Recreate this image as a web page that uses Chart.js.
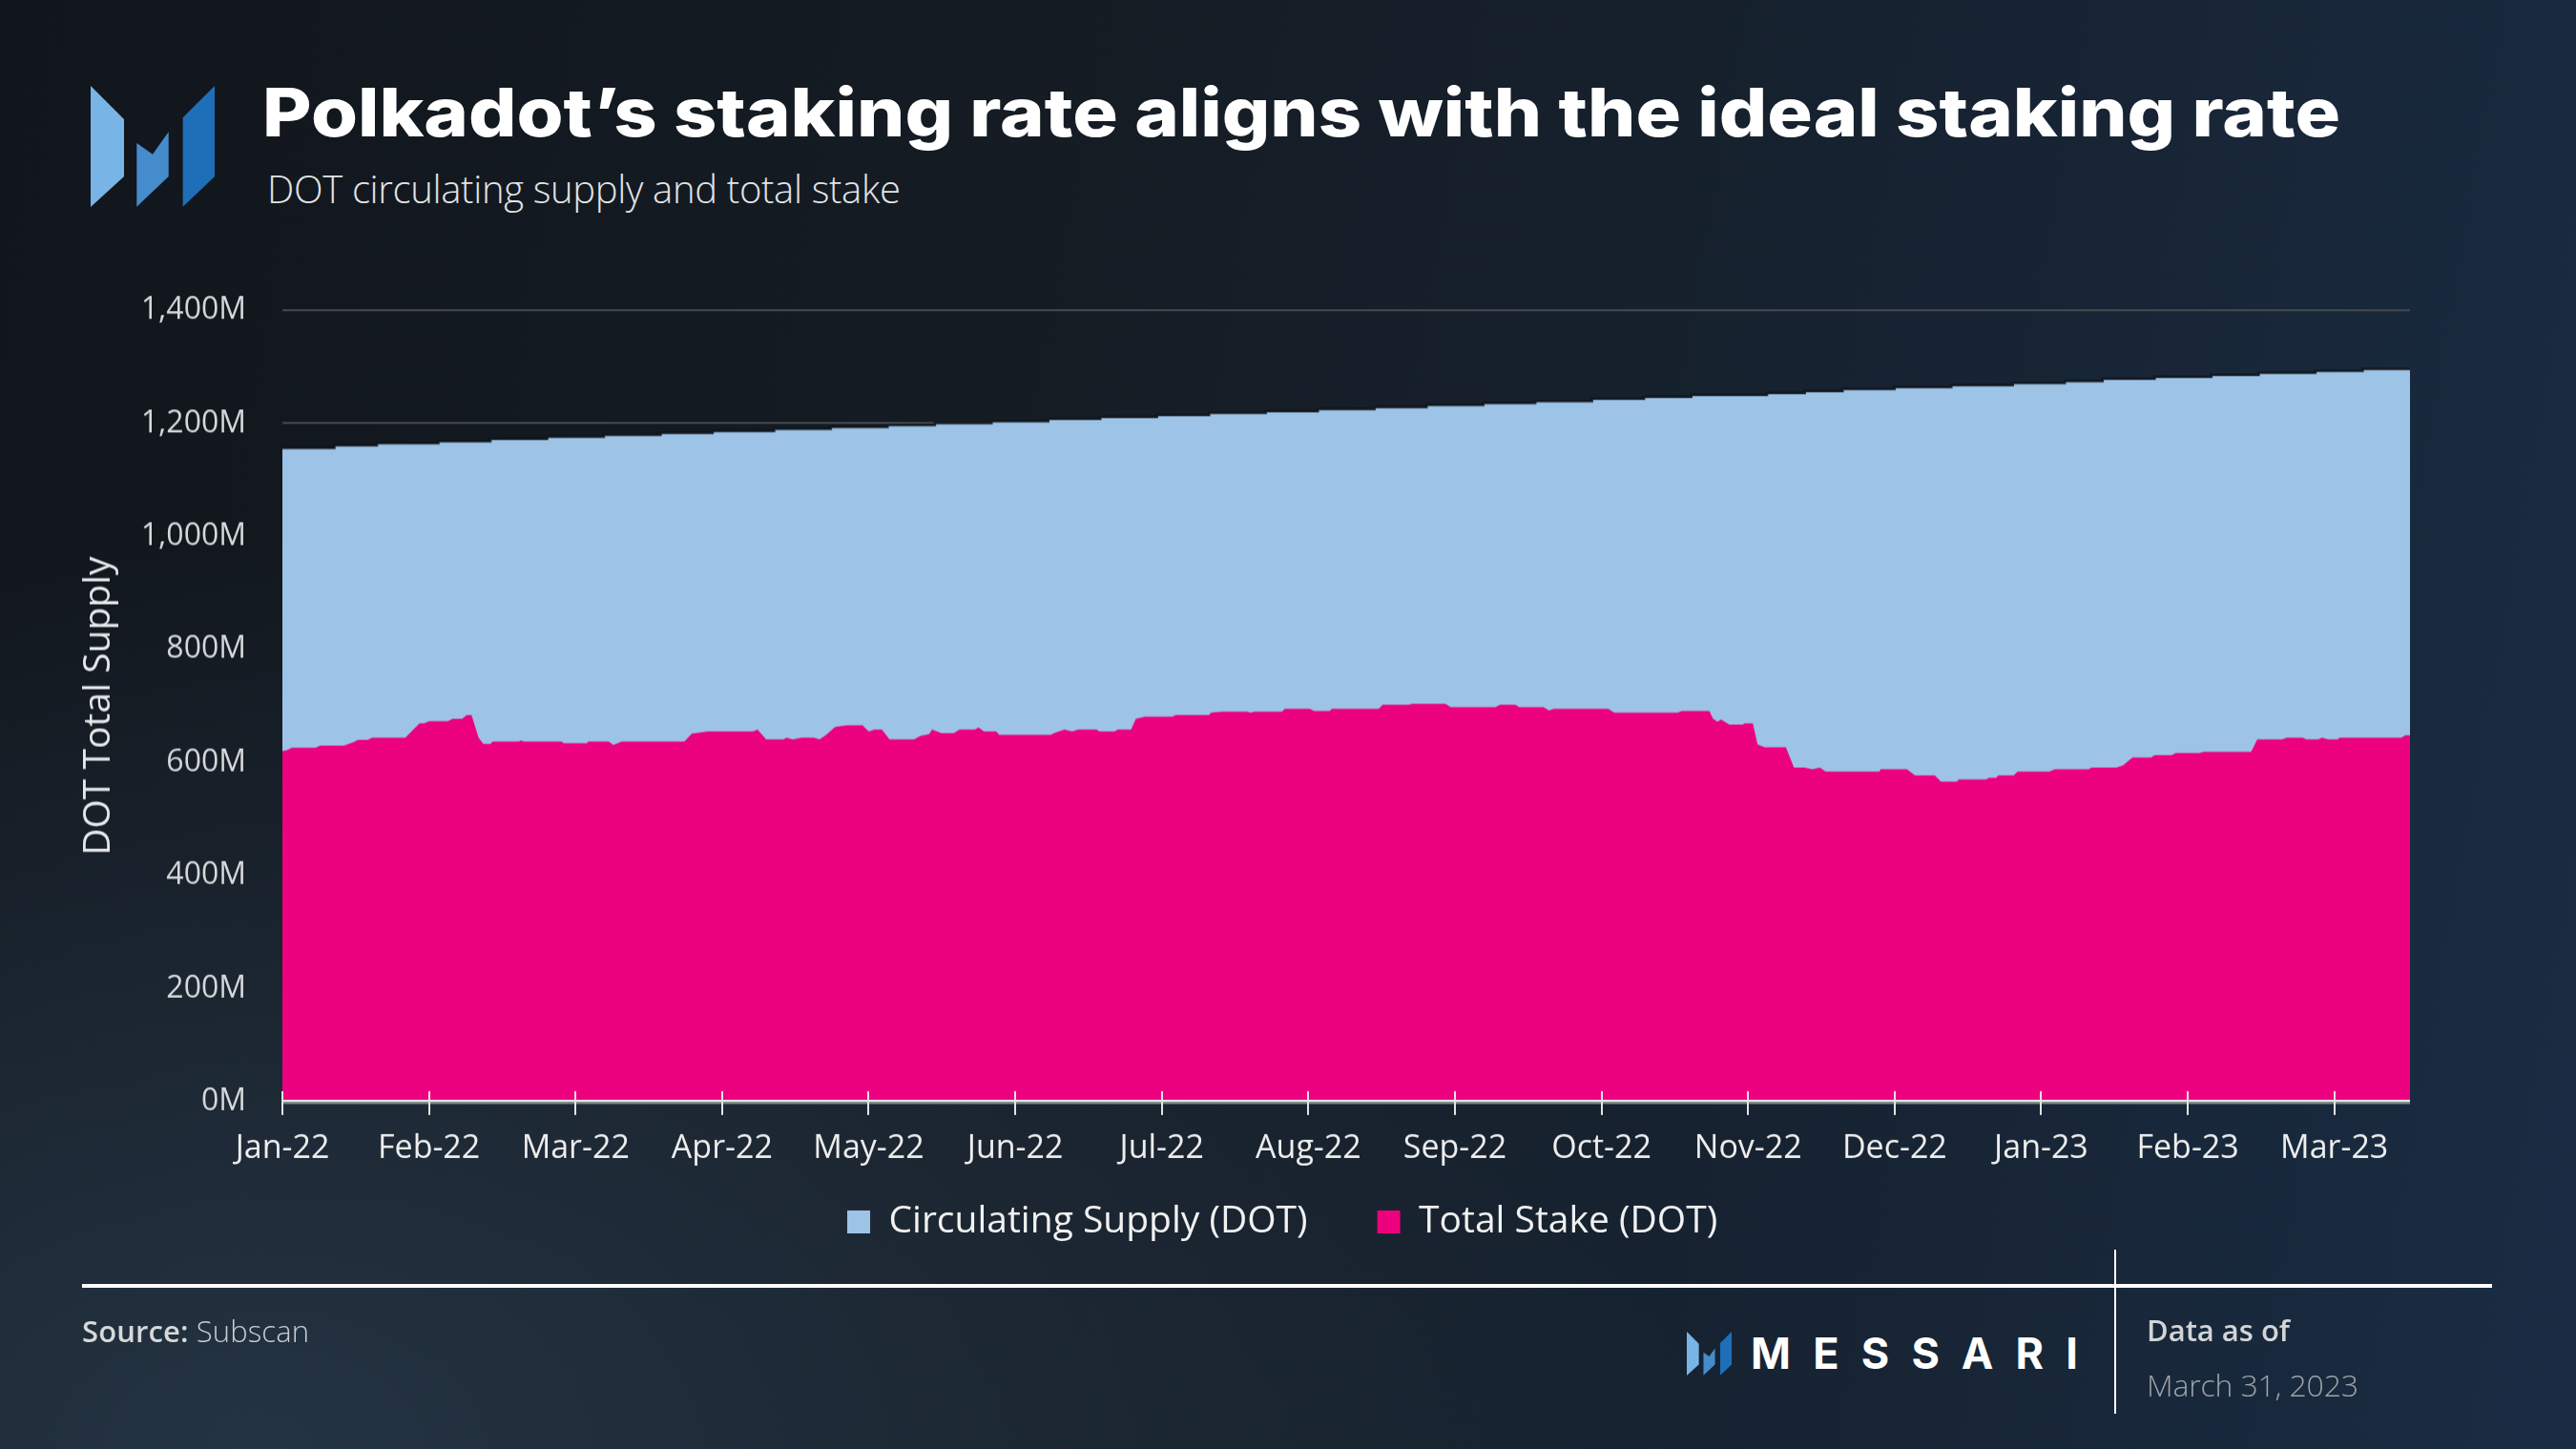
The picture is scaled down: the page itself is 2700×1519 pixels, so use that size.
<!DOCTYPE html>
<html>
<head>
<meta charset="utf-8">
<script src="https://cdn.jsdelivr.net/npm/chart.js@4.4.1/dist/chart.umd.min.js"></script>
<style>
html,body{margin:0;padding:0;}
body{width:2700px;height:1519px;overflow:hidden;position:relative;
  background:
    radial-gradient(ellipse 1500px 950px at 10% 100%, rgba(37,53,69,0.95) 0%, rgba(37,53,69,0) 100%),
    linear-gradient(100deg,#11161c 0%,#151c24 40%,#172434 75%,#1a2d44 100%);
  font-family:'Open Sans',sans-serif;}
.abs{position:absolute;white-space:nowrap;line-height:1;}
</style>
</head>
<body>
<svg class="abs" style="left:95px;top:90px" width="130" height="127" viewBox="95 90 130 127">
  <polygon points="95,90 130,125 130,185 95,217" fill="#78b4e6"/>
  <polygon points="143.3,150 160,161.7 176.7,138.3 176.7,185 143.3,216.7" fill="#468bcc"/>
  <polygon points="225,90 225,185 191.7,216.7 191.7,123.3" fill="#1f6fb8"/>
</svg>
<div id="title" class="abs" style="left:275px;top:82.5px;font-family:Inter,'Open Sans',sans-serif;font-weight:800;font-size:70px;color:#ffffff;transform-origin:0 0">Polkadot’s staking rate aligns with the ideal staking rate</div>
<div id="subtitle" class="abs" style="left:280px;top:177.5px;font-family:'Open Sans';font-weight:300;font-size:40px;color:#e2e4e6">DOT circulating supply and total stake</div>

<div id="wrap" style="position:absolute;left:0;top:0;width:2700px;height:1420px"><canvas id="c"></canvas></div>

<div class="abs" style="left:86px;top:1346px;width:2526px;height:4px;background:#ffffff"></div>
<div class="abs" style="left:2216px;top:1310px;width:2px;height:172px;background:#ffffff"></div>
<div id="source" class="abs" style="left:86px;top:1379.5px;font-size:31px;color:#c9cccf"><span style="font-weight:600;color:#d6d8da">Source:</span><span style="font-weight:300"> Subscan</span></div>
<svg class="abs" style="left:1768px;top:1396px" width="47" height="46" viewBox="95 90 130 127">
  <polygon points="95,90 130,125 130,185 95,217" fill="#78b4e6"/>
  <polygon points="143.3,150 160,161.7 176.7,138.3 176.7,185 143.3,216.7" fill="#468bcc"/>
  <polygon points="225,90 225,185 191.7,216.7 191.7,123.3" fill="#1f6fb8"/>
</svg>
<div id="messari" class="abs" style="left:1835px;top:1396px;font-family:Inter,sans-serif;font-weight:700;font-size:45px;color:#ffffff">MESSARI</div>
<div id="dataasof" class="abs" style="left:2250px;top:1378.5px;font-size:31px;font-weight:600;color:#d2d4d6">Data as of</div>
<div id="date" class="abs" style="left:2250px;top:1435.5px;font-size:32px;font-weight:300;color:#9ea3a8">March 31, 2023</div>

<script>
// ---- data (values in millions of DOT; x = day index from 1 Jan 2022) ----
const tickDays   = [0, 31, 62, 93, 124, 155, 186, 217, 248, 279, 310, 341, 372, 403, 434];
const tickLabels = ['Jan-22','Feb-22','Mar-22','Apr-22','May-22','Jun-22','Jul-22','Aug-22','Sep-22','Oct-22','Nov-22','Dec-22','Jan-23','Feb-23','Mar-23'];
const yTickValues = [0, 200, 400, 600, 800, 1000, 1200, 1400];

const supplyDays = [0,11,20,33,44,56,68,80,91,104,116,128,138,150,162,173,185,196,208,219,231,242,254,265,277,288,298,314,322,330,341,353,366,377,385,396,408,418,430,440,450];
const supplyValues = [1156.5,1161.0,1165.0,1168.4,1172.3,1176.2,1179.6,1183.0,1186.4,1190.3,1193.7,1197.1,1200.5,1203.8,1207.8,1211.1,1214.5,1218.5,1221.3,1225.2,1228.6,1232.5,1235.9,1239.3,1243.2,1246.6,1250.0,1253.4,1256.8,1260.7,1264.1,1267.5,1271.4,1274.8,1278.7,1282.1,1285.5,1289.4,1292.8,1296.2,1296.2];

const stakeDays = [0,1,2,7,8,13,15,16,18,19,
  26,29,30,31,35,36,38,39,40,41.5,
  42.5,44,44.5,50,50.5,51,59,59.5,64.4,64.7,
  69,70,71.8,85,86.6,89.9,99.5,100.5,102.3,106,
  106.6,107.9,109.8,112.4,113.6,114.9,116.9,119.4,122.7,124,
  125.2,126.8,128.4,133.6,134.9,136.8,137.4,139.4,142,143.2,
  146.5,147.2,148.4,151,151.6,162.5,163.2,165.4,167,168.3,
  172.2,172.8,176,176.7,179.5,180.5,182.5,188.2,189,196,
  196.4,198.6,204,204.8,205.6,211.4,212,217.3,218.2,221.5,
  222,231.9,232.7,238.2,239,246,247.1,256.6,257.5,260.8,
  261.6,266.7,267.9,268.9,280.4,281.7,295.1,296,301.8,302.6,
  303.5,304.3,306,308.9,309.3,311,312,313.5,318,319.7,
  321.9,323.6,325.2,326.4,337.8,338,343.6,345.3,349.5,350.8,
  354.2,354.5,360.4,360.9,362.5,362.9,366.2,367,373.7,374.9,
  382.1,382.6,387.9,389.3,391.3,395.2,396,399.6,400.5,405.5,
  406.4,416.4,417.7,423,423.9,427.3,428.1,430.6,431.4,432.7,
  434.7,435.1,448.2,449,450];
const stakeValues = [620,622,626,626,630,630,636,640,640,644,
  644,669,669,673,673,677,677,684,684,644,
  633,633,637,637,639,637,637,634,634,637,
  637,631,637,637,651,655,655,658,641,641,
  644,641,644,644,641,648,663,666,666,655,
  658,658,641,641,647,650,658,652,652,658,
  658,662,655,655,649,649,652,658,655,658,
  658,655,655,658,658,677,681,681,684,684,
  688,690,690,688,690,690,695,695,691,691,
  695,695,702,702,704,704,698,698,702,702,
  698,698,692,695,695,688,688,691,691,677,
  672,676,667,667,669,669,632,627,627,591,
  591,588,591,584,584,588,588,577,577,566,
  566,570,570,573,573,577,577,584,584,588,
  588,591,591,595,609,609,613,613,617,617,
  619,619,641,641,644,644,641,641,644,641,
  641,644,644,648,648];

// ---- text fitting for the HTML header/footer ----
function fit(id, target){
  const el = document.getElementById(id);
  el.style.letterSpacing = '0px';
  const w = el.getBoundingClientRect().width;
  const n = [...el.textContent].length;
  el.style.letterSpacing = ((target - w) / (n - 1)) + 'px';
}
function stretch(id, target){
  const el = document.getElementById(id);
  const w = el.getBoundingClientRect().width;
  el.style.transform = 'scaleX(' + (target / w) + ')';
}
stretch('title', 2178);
fit('subtitle', 664);
fit('source', 238);
fit('messari', 343);
fit('dataasof', 150);
fit('date', 222);

// ---- chart ----
let legendShiftX = 0;
let legendShiftY = 0;

const axisPlugin = {
  id: 'axisCross',
  afterDatasetsDraw(chart) {
    const {ctx, chartArea, scales} = chart;
    const {left, right, bottom} = chartArea;
    ctx.save();
    ctx.fillStyle = '#e9ebeb';
    ctx.fillRect(left, bottom - 2, right - left, 2.5);
    ctx.fillStyle = '#7f8a8c';
    ctx.fillRect(left, bottom + 0.5, right - left, 2);
    ctx.strokeStyle = '#e2e4e4';
    ctx.lineWidth = 2;
    tickDays.forEach(d => {
      const px = Math.round(scales.x.getPixelForValue(d));
      ctx.beginPath();
      ctx.moveTo(px, bottom - 11);
      ctx.lineTo(px, bottom + 14);
      ctx.stroke();
    });
    ctx.restore();
  }
};
const shiftPlugin = {
  id: 'legendShift',
  afterLayout(chart) {
    const lg = chart.legend;
    if (lg) {
      lg.left += legendShiftX; lg.right += legendShiftX;
      lg.top += legendShiftY; lg.bottom += legendShiftY;
    }
  }
};

const supplyColor = '#9dc3e6';
const stakeColor = '#ec017e';

const chart = new Chart(document.getElementById('c'), {
  type: 'line',
  data: {
    datasets: [
      {
        label: 'Circulating Supply (DOT)',
        data: supplyDays.map((d, i) => ({x: d, y: supplyValues[i]})),
        backgroundColor: supplyColor,
        borderColor: 'rgba(12,16,22,0.85)',
        borderWidth: 2.5,
        stepped: true,
        fill: 'origin',
        pointRadius: 0,
        order: 2
      },
      {
        label: 'Total Stake (DOT)',
        data: stakeDays.map((d, i) => ({x: d, y: stakeValues[i]})),
        backgroundColor: stakeColor,
        borderColor: stakeColor,
        borderWidth: 0,
        tension: 0,
        fill: 'origin',
        pointRadius: 0,
        order: 1
      }
    ]
  },
  options: {
    responsive: true,
    maintainAspectRatio: false,
    animation: false,
    devicePixelRatio: 1,
    events: [],
    layout: { padding: { left: 60, right: 174, top: 325, bottom: 0 } },
    scales: {
      x: {
        type: 'linear',
        min: 0,
        max: 450,
        grid: { display: false, drawTicks: false },
        border: { display: false },
        afterBuildTicks: s => { s.ticks = tickDays.map(v => ({value: v})); },
        ticks: {
          autoSkip: false, maxRotation: 0, minRotation: 0, padding: 29,
          color: '#eeeeee',
          font: { family: 'Open Sans', size: 34 },
          callback: (v, i) => tickLabels[i]
        }
      },
      y: {
        min: 0,
        max: 1400,
        afterBuildTicks: s => { s.ticks = yTickValues.map(v => ({value: v})); },
        afterFit: s => { s.width = 236; },
        grid: { color: '#464b51', lineWidth: 2, drawTicks: false },
        border: { display: false },
        ticks: {
          padding: 38,
          color: '#d6d8da',
          font: { family: 'Open Sans', size: 32 },
          callback: v => v.toLocaleString('en-US') + 'M'
        },
        title: {
          display: true,
          text: 'DOT Total Supply',
          color: '#e6e8ea',
          font: { family: 'Open Sans', size: 39 },
          padding: { top: 20, bottom: 0 }
        }
      }
    },
    plugins: {
      tooltip: { enabled: false },
      legend: {
        position: 'bottom',
        align: 'center',
        labels: {
          boxWidth: 24,
          boxHeight: 24,
          padding: 73,
          color: '#f2f2f2',
          font: { family: 'Open Sans', size: 39 },
          sort: (a, b) => a.datasetIndex - b.datasetIndex,
          generateLabels: (ch) => {
            const items = Chart.defaults.plugins.legend.labels.generateLabels(ch);
            items.forEach(it => { it.strokeStyle = it.fillStyle; it.lineWidth = 0; });
            return items;
          }
        }
      }
    }
  },
  plugins: [axisPlugin, shiftPlugin]
});

// place legend and chart area precisely
(function adjust(){
  const hb = chart.legend.legendHitBoxes[0];
  const bottom = chart.chartArea.bottom;
  legendShiftX = 888 - hb.left;
  const center = hb.top + hb.height / 2;
  legendShiftY = (1280 - 1154) - (center - bottom);
  const wrap = document.getElementById('wrap');
  const dh = 1154 - bottom;
  wrap.style.height = (parseFloat(wrap.style.height) + dh) + 'px';
  chart.resize();
  chart.update();
})();
</script>
</body>
</html>
